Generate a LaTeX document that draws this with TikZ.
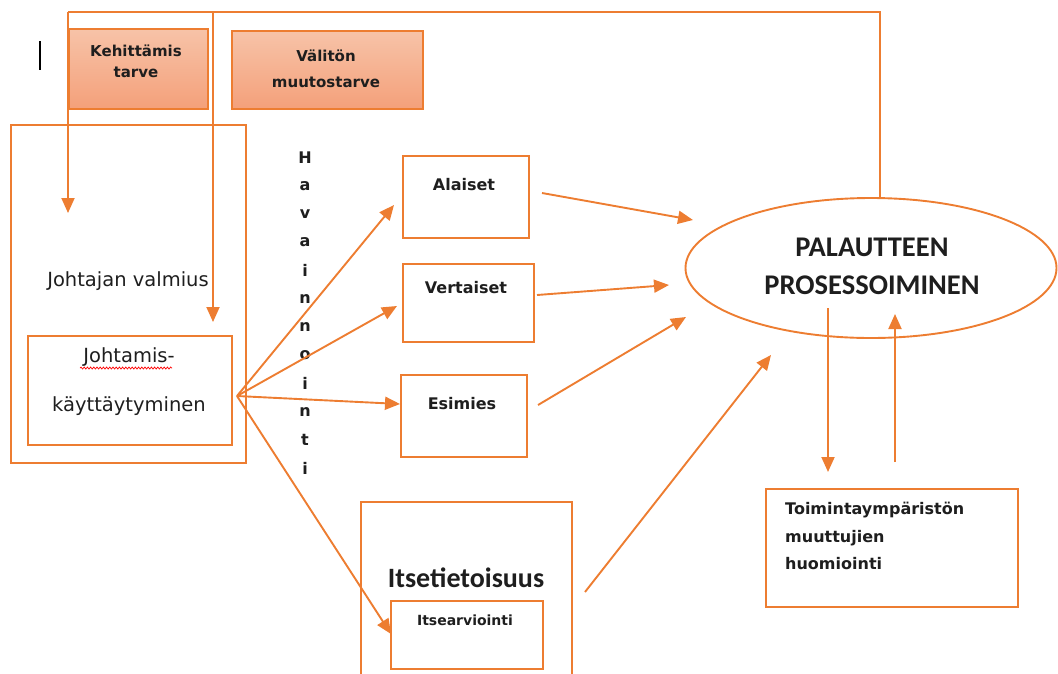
\documentclass[tikz,border=0pt]{standalone}
\usepackage{fontspec}
\setmainfont{DejaVu Sans}
\newfontfamily\carlitofont{Carlito}
\usetikzlibrary{arrows.meta,shapes.geometric,decorations.pathmorphing}
\definecolor{org}{HTML}{ED7D31}
\definecolor{orglight}{HTML}{F7C3A8}
\definecolor{orgmid}{HTML}{F4A07A}
\definecolor{ink}{HTML}{1E1E1E}
\tikzset{
  box/.style={draw=org, line width=1.9pt, inner sep=0pt, anchor=north west},
  tagbox/.style={box, top color=orglight, bottom color=orgmid},
  line/.style={draw=org, line width=1.9pt},
  arr/.style={line, -{Triangle[length=15pt,width=13pt]}},
  txt/.style={text=ink, inner sep=0pt, font=\fontsize{19.5}{22}\selectfont},
  btxt/.style={txt, font=\fontsize{16}{20}\selectfont\bfseries},
  stxt/.style={txt, font=\fontsize{15}{20}\selectfont\bfseries},
}
\begin{document}
\begin{tikzpicture}[x=1pt,y=-1pt]
\useasboundingbox (0,0) rectangle (1058,673);

% text cursor mark
\draw[line width=1.5pt, black] (40,41) -- (40,70);

% need boxes
\node[tagbox, minimum width=139, minimum height=80] (keh) at (68,28) {};
\node[stxt, align=center, font=\fontsize{15}{21}\selectfont\bfseries] (kehT) at (136,61) {Kehittämis\\tarve};
\node[tagbox, minimum width=191, minimum height=78] (val) at (231,30) {};
\node[stxt, align=center, font=\fontsize{15}{26}\selectfont\bfseries] (valT) at (326,69) {Välitön\\muutostarve};

% readiness and behaviour
\node[box, minimum width=235, minimum height=338] (valm) at (10,124) {};
\node[txt] (valmT) at (128,281) {Johtajan valmius};
\node[box, minimum width=204, minimum height=109] (jkt) at (27,335) {};
\node[txt] (jkt1) at (129,357) {Johtamis-};
\node[txt] (jkt2) at (129,406) {käyttäytyminen};
\draw[red, line width=0.7pt, decorate, decoration={snake, amplitude=1pt, segment length=3.2pt}]
  (80,368) -- (172,368);

% observation label, one letter per line
\foreach \ch [count=\i from 0] in {H,a,v,a,i,n,n,o,i,n,t,i}
  \node[btxt] (hav\i) at (305,{158+28.2*\i}) {\ch};

% feedback sources
\node[box, minimum width=126, minimum height=82] (ala) at (402,155) {};
\node[btxt] (alaT) at (464,185) {Alaiset};
\node[box, minimum width=131, minimum height=78] (ver) at (402,263) {};
\node[btxt] (verT) at (466,288) {Vertaiset};
\node[box, minimum width=126, minimum height=82] (esi) at (400,374) {};
\node[btxt] (esiT) at (462,404) {Esimies};

% self-awareness (open at the bottom edge)
\draw[line] (361,675) |- (572,502) -- (572,675);
\node[txt, font=\carlitofont\bfseries\fontsize{28}{30}\selectfont] (itsT) at (466,578) {Itsetietoisuus};
\node[box, minimum width=152, minimum height=68] (its) at (390,600) {};
\node[btxt, font=\fontsize{14}{16}\selectfont\bfseries] (itsA) at (465,620) {Itsearviointi};

% feedback processing
\node[ellipse, draw=org, line width=1.9pt, minimum width=371, minimum height=140, inner sep=0pt] (pal) at (871,268) {};
\node[txt, font=\carlitofont\bfseries\fontsize{28.5}{38}\selectfont, align=center] (palT) at (872,266) {PALAUTTEEN\\PROSESSOIMINEN};

% operating environment
\node[box, minimum width=252, minimum height=118] (toi) at (765,488) {};
\node[btxt, align=left, anchor=north west, font=\fontsize{16}{27.5}\selectfont\bfseries] (toiT) at (785,502) {Toimintaympäristön\\muuttujien\\huomiointi};

% connector end points
\coordinate (top1) at (68,12);
\coordinate (top2) at (880,12);
\coordinate (kehEnd) at (68,213);
\coordinate (valStart) at (213,13);
\coordinate (valEnd) at (213,322);
\coordinate (src) at (237,396);
\coordinate (alaIn) at (394,205);
\coordinate (verIn) at (397,306);
\coordinate (esiIn) at (400,404);
\coordinate (itsIn) at (391,634);
\coordinate (alaOut) at (542,193);
\coordinate (alaTip) at (693,220);
\coordinate (verOut) at (537,295);
\coordinate (verTip) at (669,285);
\coordinate (esiOut) at (538,405);
\coordinate (esiTip) at (686,317);
\coordinate (itsOut) at (585,592);
\coordinate (itsTip) at (771,355);
\coordinate (downA) at (828,308);
\coordinate (downB) at (828,472);
\coordinate (upA) at (895,462);
\coordinate (upB) at (895,314);

% feedback loop along the top
\draw[line] (pal.north -| top2) -- (top2) -- (top1);
\draw[arr] (top1) -- (kehEnd);
\draw[arr] (valStart) -- (valEnd);

% observation arrows
\draw[arr] (src) -- (alaIn);
\draw[arr] (src) -- (verIn);
\draw[arr] (src) -- (esiIn);
\draw[arr] (src) -- (itsIn);

% into processing
\draw[arr] (alaOut) -- (alaTip);
\draw[arr] (verOut) -- (verTip);
\draw[arr] (esiOut) -- (esiTip);
\draw[arr] (itsOut) -- (itsTip);

% exchange with the environment
\draw[arr] (downA) -- (downB);
\draw[arr] (upA) -- (upB);
\end{tikzpicture}
\end{document}
